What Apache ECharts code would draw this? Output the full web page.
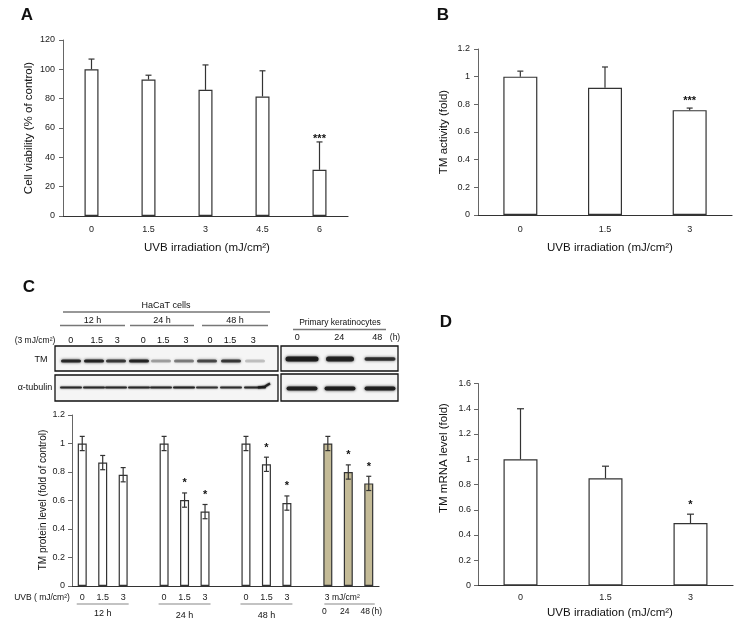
<!DOCTYPE html>
<html><head><meta charset="utf-8">
<script src="https://cdn.jsdelivr.net/npm/echarts@6.0.0/dist/echarts.min.js"></script>
<style>html,body{margin:0;padding:0;background:#fff}#c{width:737px;height:625px}</style>
</head><body><div id="c"></div>
<script>
const FONT = 'Arial, "Liberation Sans", sans-serif';

// ---- Panel A: cell viability ----
const catA = ['0', '1.5', '3', '4.5', '6'];
const valA = [100, 93, 86, 81.5, 31.5];
const errA = [7, 3, 17, 17.5, 19];
const sigA = ['', '', '', '', '***'];

// ---- Panel B: TM activity ----
const catB = ['0', '1.5', '3'];
const valB = [1, 0.92, 0.758];
const errB = [0.04, 0.15, 0.015];
const sigB = ['', '', '***'];

// ---- Panel C: TM protein level ----
const catC = ['0', '1.5', '3', '', '0', '1.5', '3', '', '0', '1.5', '3', '', '0', '24', '48'];
const valC = [1, 0.866, 0.781, null, 1, 0.603, 0.522, null, 1, 0.854, 0.582, null, 1, 0.80, 0.72];
const errC = [0.05, 0.05, 0.05, null, 0.05, 0.05, 0.05, null, 0.05, 0.05, 0.05, null, 0.05, 0.05, 0.05];
const sigC = ['', '', '', '', '', '*', '*', '', '', '*', '*', '', '', '*', '*'];
const cellC = ['HaCaT', 'HaCaT', 'HaCaT', '', 'HaCaT', 'HaCaT', 'HaCaT', '', 'HaCaT', 'HaCaT', 'HaCaT', '', 'Primary', 'Primary', 'Primary'];
const groupsC = [['12 h', 0, 2], ['24 h', 4, 6], ['48 h', 8, 10]];
const primaryLanes = ['0', '24', '48'];

// ---- Panel D: TM mRNA level ----
const catD = ['0', '1.5', '3'];
const valD = [1, 0.85, 0.495];
const errD = [0.40, 0.095, 0.07];
const sigD = ['', '', '*'];

// ---- Western blot lanes (image content) ----
const laneLabelsHaCaT = ['0', '1.5', '3', '0', '1.5', '3', '0', '1.5', '3'];
const tmHaCaT = [0.88, 0.9, 0.78, 0.9, 0.35, 0.48, 0.7, 0.78, 0.22];
const tubHaCaT = [0.85, 0.85, 0.85, 0.85, 0.85, 0.9, 0.8, 0.82, 0.85];
const tmPrim = [0.95, 0.9, 0.82];
const tubPrim = [0.92, 0.95, 0.92];

const chart = echarts.init(document.getElementById('c'), null, {renderer: 'canvas', width: 737, height: 625});

function yAxis(g, min, max, interval, margin, fs) {
  return {type: 'value', gridIndex: g, min, max, interval,
    axisLine: {show: true, lineStyle: {color: '#666', width: 1}},
    axisTick: {show: true, length: 4, lineStyle: {color: '#666'}},
    splitLine: {show: false},
    axisLabel: {fontSize: fs, color: '#222', fontFamily: FONT, margin}};
}
function xAxis(g, cats, margin, fs, formatter) {
  return {type: 'category', gridIndex: g, data: cats,
    axisLine: {show: true, lineStyle: {color: '#333', width: 1.2}},
    axisTick: {show: false},
    axisLabel: {fontSize: fs, color: '#222', fontFamily: FONT, margin, interval: 0, formatter}};
}
function barSeries(g, vals, width, colors) {
  return {type: 'bar', xAxisIndex: g, yAxisIndex: g, barWidth: width, silent: true,
    data: vals.map((v, i) => ({value: v, itemStyle: {color: colors ? colors[i] : '#fff', borderColor: '#333', borderWidth: 1.2}}))};
}
function errorSeries(g, vals, errs, sigs, opts) {
  const idx = vals.map((v, i) => i).filter(i => vals[i] != null);
  return {type: 'custom', xAxisIndex: g, yAxisIndex: g, z: 5, silent: true,
    data: idx.map(i => [i, vals[i], errs[i]]),
    renderItem(params, api) {
      const i = idx[params.dataIndex];
      const x = api.value(0), v = api.value(1), e = api.value(2);
      const pT = api.coord([x, v + e]);
      const pB = api.coord([x, opts.both ? v - e : v]);
      const h = opts.cap / 2;
      const st = {stroke: '#333', lineWidth: 1.2};
      const ch = [
        {type: 'line', shape: {x1: pT[0], y1: pT[1], x2: pB[0], y2: pB[1]}, style: st},
        {type: 'line', shape: {x1: pT[0] - h, y1: pT[1], x2: pT[0] + h, y2: pT[1]}, style: st}];
      if (opts.both) ch.push({type: 'line', shape: {x1: pB[0] - h, y1: pB[1], x2: pB[0] + h, y2: pB[1]}, style: st});
      if (sigs[i]) ch.push({type: 'text', x: pT[0], y: pT[1] - opts.gap + 2.5,
        style: {text: sigs[i], fill: '#111', font: 'bold 11px ' + FONT, align: 'center', verticalAlign: 'middle'}});
      return {type: 'group', children: ch};
    }};
}

const colorsC = cellC.map(c => c === 'Primary' ? '#c4bb97' : '#fff');

chart.setOption({
  animation: false,
  grid: [
    {left: 63, top: 40, width: 285, height: 176},
    {left: 478, top: 49, width: 254, height: 166},
    {left: 72, top: 415, width: 307, height: 171},
    {left: 478, top: 383.5, width: 255, height: 202}
  ],
  xAxis: [
    xAxis(0, catA, 9, 9),
    xAxis(1, catB, 10, 9),
    xAxis(2, catC, 7, 9, (v, i) => cellC[i] === 'HaCaT' ? v : ''),
    xAxis(3, catD, 8, 9)
  ],
  yAxis: [
    yAxis(0, 0, 120, 20, 8, 9),
    yAxis(1, 0, 1.2, 0.2, 8, 9),
    yAxis(2, 0, 1.2, 0.2, 7, 9),
    yAxis(3, 0, 1.6, 0.2, 7, 9)
  ],
  series: [
    barSeries(0, valA, 14),
    barSeries(1, valB, 34),
    barSeries(2, valC, 9, colorsC),
    barSeries(3, valD, 34),
    errorSeries(0, valA, errA, sigA, {cap: 6, gap: 5}),
    errorSeries(1, valB, errB, sigB, {cap: 6, gap: 10}),
    errorSeries(2, valC, errC, sigC, {cap: 5, gap: 12, both: true}),
    errorSeries(3, valD, errD, sigD, {cap: 7, gap: 12})
  ]
});

// ---- annotations ----
const G = [];
function txt(x, y, text, fs, opt) {
  opt = opt || {};
  G.push({type: 'text', x, y, rotation: opt.rot || 0, silent: true,
    style: {text, fill: opt.color || '#111', font: (opt.bold ? 'bold ' : '') + fs + 'px ' + FONT,
      align: opt.align || 'center', verticalAlign: 'middle'}});
}
function hline(x1, x2, y, color, w) {
  G.push({type: 'line', silent: true, shape: {x1, y1: y, x2, y2: y}, style: {stroke: color || '#333', lineWidth: w || 1}});
}
function box(x, y, w, h) {
  G.push({type: 'rect', silent: true, shape: {x, y, width: w, height: h}, style: {fill: '#f5f5f5', stroke: '#111', lineWidth: 1.3}});
}
function band(cx, cy, w, h, a, blur) {
  G.push({type: 'rect', silent: true, shape: {x: cx - w / 2, y: cy - h / 2, width: w, height: h, r: h / 2},
    style: {fill: 'rgba(25,25,25,' + a + ')', shadowBlur: blur || 3.5, shadowColor: 'rgba(0,0,0,' + (a * 0.9) + ')'}});
}

// panel letters
txt(27, 15, 'A', 17, {bold: true});
txt(443, 15, 'B', 17, {bold: true});
txt(29, 287, 'C', 17, {bold: true});
txt(446, 322, 'D', 17, {bold: true});

// axis titles
txt(207, 248, 'UVB irradiation (mJ/cm²)', 11.5);
txt(29, 128, 'Cell viability (% of control)', 11.5, {rot: Math.PI / 2});
txt(610, 248, 'UVB irradiation (mJ/cm²)', 11.5);
txt(444, 132, 'TM activity (fold)', 11.5, {rot: Math.PI / 2});
txt(610, 613, 'UVB irradiation (mJ/cm²)', 11.5);
txt(444, 458, 'TM mRNA level (fold)', 11.5, {rot: Math.PI / 2});
txt(43, 500, 'TM protein level (fold of control)', 10, {rot: Math.PI / 2});

// panel C x annotations from the axis scale
const px = i => chart.convertToPixel({xAxisIndex: 2}, i);
txt(42, 598, 'UVB ( mJ/cm²)', 8.5);
groupsC.forEach(([name, a, b], k) => {
  hline(px(a) - 5.5, px(b) + 5.5, 604, '#888', 1.2);
  txt((px(a) + px(b)) / 2, k === 0 ? 614 : 616, name, 9);
});
const pIdx = cellC.map((c, i) => c === 'Primary' ? i : -1).filter(i => i >= 0);
const p0 = px(pIdx[0]), p1 = px(pIdx[pIdx.length - 1]);
txt((p0 + p1) / 2 - 6, 597.5, '3 mJ/cm²', 8.5);
hline(p0 - 3.5, p1 + 6, 604, '#888', 1.2);
pIdx.forEach((i, k) => txt(px(i) - 3.5, 612, primaryLanes[k], 8.5));
txt(p1 + 8, 612, '(h)', 8.5);

// ---- western blot ----
txt(166, 306, 'HaCaT cells', 9);
hline(63, 270, 312, '#333', 1.1);
[['12 h', 60, 125], ['24 h', 130, 194], ['48 h', 202, 268]].forEach(([t, a, b]) => {
  txt((a + b) / 2, 320.5, t, 9);
  hline(a, b, 325.5, '#777', 1.3);
});
txt(35, 341, '(3 mJ/cm²)', 8.5);
const laneX = [71, 94, 116, 139, 161, 184, 207, 231, 255];
const laneTxtX = [70.7, 96.7, 117.3, 143.3, 163.3, 186, 210, 230, 253.3];
laneLabelsHaCaT.forEach((t, k) => txt(laneTxtX[k], 341, t, 9));
txt(41, 360, 'TM', 9);
txt(35, 388, 'α-tubulin', 9);
box(55, 346, 223, 25);
box(55, 375, 223, 26);
laneX.forEach((x, k) => {
  band(x, 361, 20, 3.2, tmHaCaT[k], 3);
  band(x, 387.5, 22, 2, tubHaCaT[k], 2);
});
G.push({type: 'polyline', silent: true, shape: {points: [[258, 387.5], [265, 386.5], [270, 383.5]]},
  style: {stroke: 'rgba(25,25,25,0.85)', lineWidth: 2.2, shadowBlur: 2, shadowColor: '#000'}});

txt(340, 322.5, 'Primary keratinocytes', 8.5);
hline(293, 386, 329.5, '#777', 1.3);
txt(297.3, 337.5, '0', 9);
txt(339.3, 337.5, '24', 9);
txt(377.3, 337.5, '48', 9);
txt(395, 337.5, '(h)', 8.5);
box(281, 346, 117, 25);
box(281, 374, 117, 27);
const primX = [302, 340, 380];
const primW = [33, 28, 31];
primX.forEach((x, k) => {
  band(x, 359, primW[k], k === 2 ? 3.5 : 5, tmPrim[k], 3);
  band(x, 388.5, 31, 4, tubPrim[k], 3);
});

chart.setOption({graphic: {elements: G}});
</script>
</body></html>
